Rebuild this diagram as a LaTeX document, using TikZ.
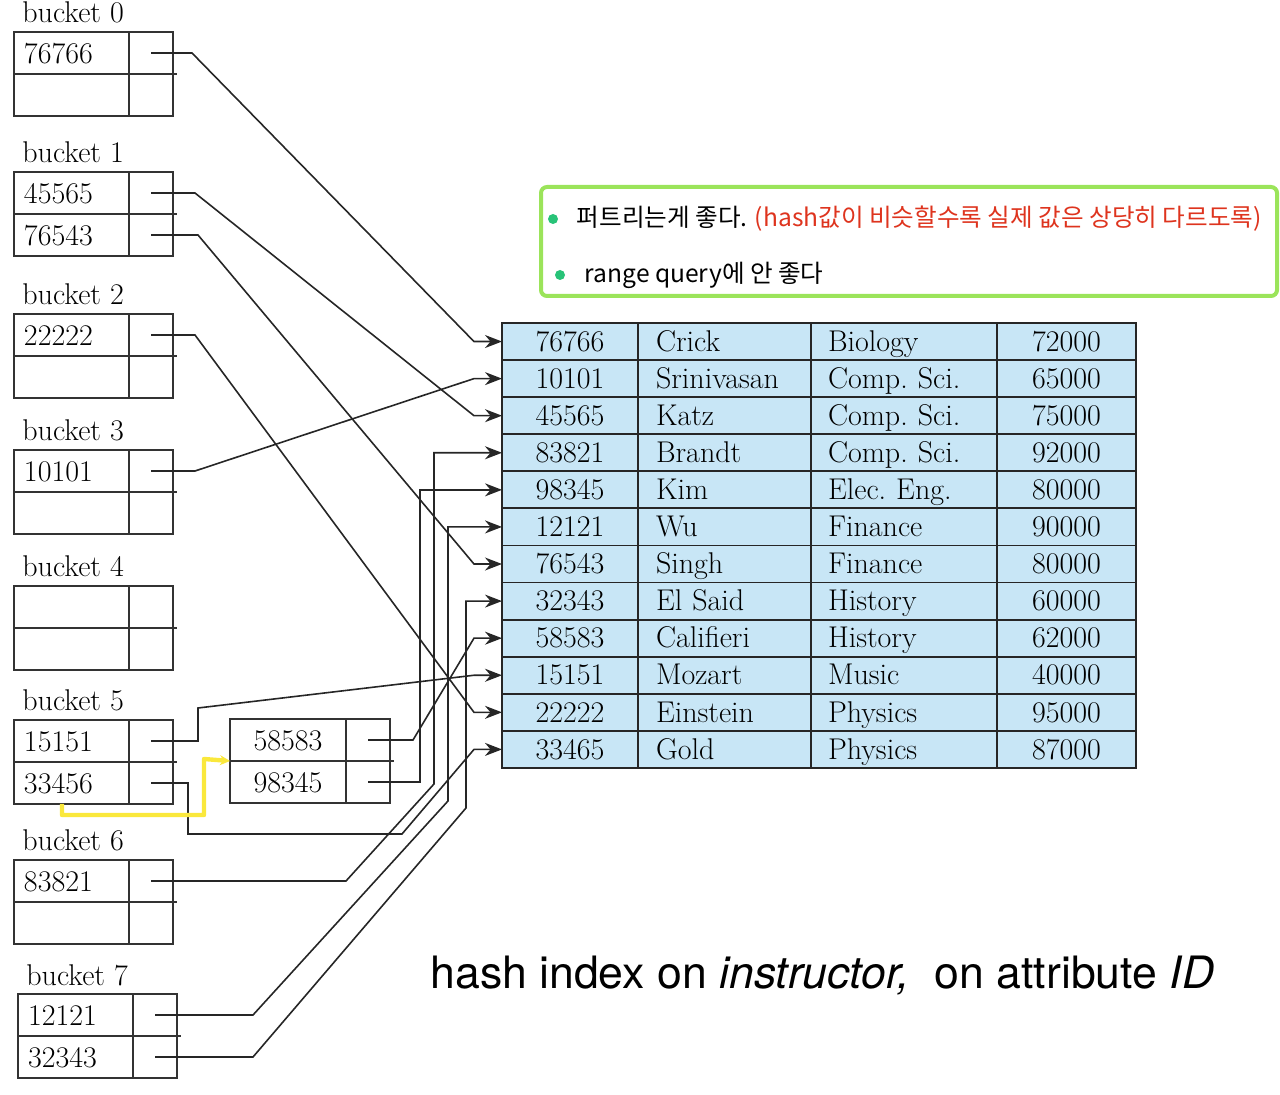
\documentclass[tikz,border=0pt]{standalone}
\usepackage{fontspec}
\usepackage{tikz}
\usetikzlibrary{positioning,arrows.meta,calc}
\newfontfamily\capfont{TeX Gyre Heros}
\newfontfamily\kofont{Noto Sans CJK KR}
\definecolor{tblblue}{RGB}{200,230,246}
\definecolor{notegreen}{RGB}{155,228,90}
\definecolor{notered}{RGB}{222,52,30}
\definecolor{dotgreen}{RGB}{40,195,120}
\definecolor{hiyellow}{RGB}{250,232,60}

\begin{document}
\begin{tikzpicture}[
  x=0.5pt,y=-0.5pt,
  font=\fontsize{15}{18}\selectfont\frenchspacing,
  >={Stealth[length=8.5pt,width=6.5pt]},
  % --- bucket cells ---
  cell/.style   ={draw=black!80,line width=0.9pt,outer sep=0pt,inner ysep=0pt,
                  minimum height=21pt,text height=10.5pt,text depth=0pt},
  valcell/.style={cell,text width=47.5pt,inner xsep=5pt,align=left},
  ptrcell/.style={cell,minimum width=22pt,inner xsep=0pt},
  ovfcell/.style={cell,minimum width=58pt,inner xsep=0pt},
  blabel/.style ={anchor=base west,inner sep=0pt},
  % --- instructor file ---
  tcell/.style  ={draw=black!85,fill=tblblue,line width=0.9pt,outer sep=0pt,
                  inner ysep=0pt,minimum height=18.54pt,text height=9.7pt,text depth=0pt},
  idcell/.style ={tcell,minimum width=68pt,inner xsep=0pt},
  nmcell/.style ={tcell,text width=68.5pt,inner xsep=9pt,align=left},
  dpcell/.style ={tcell,text width=76pt,inner xsep=8.5pt,align=left},
  slcell/.style ={tcell,minimum width=69.5pt,inner xsep=0pt},
  % --- connectors and notes ---
  ptr/.style    ={->,line width=0.8pt,draw=black!85},
  hilite/.style ={-{Stealth[length=5pt,width=5pt]},line width=2.2pt,draw=hiyellow,
                  line join=round},
  notebox/.style={draw=notegreen,line width=2pt,rounded corners=3pt,
                  minimum width=368pt,minimum height=54.5pt},
  notetxt/.style={font=\kofont\fontsize{12.3}{15}\selectfont,inner sep=0pt},
  dot/.style    ={circle,fill=dotgreen,minimum size=5pt,inner sep=0pt},
]
\useasboundingbox (0,0) rectangle (1280,1095);

% ============================== hash buckets ===============================
\foreach \bk/\x/\y/\vone/\vtwo in {0/14/32/76766/{},1/14/172/45565/76543,
    2/14/314/22222/{},3/14/450/10101/{},4/14/586/{}/{},5/14/720/15151/33456,
    6/14/860/83821/{},7/18/994/12121/32343}{
  \node[valcell,anchor=north west] (b\bk v1) at (\x,\y) {\vone};
  \node[valcell,below=0pt of b\bk v1] (b\bk v2) {\vtwo};
  \node[ptrcell,right=0pt of b\bk v1] (b\bk p1) {};
  \node[ptrcell,right=0pt of b\bk v2] (b\bk p2) {};
  \draw[line width=0.9pt,black!80] (b\bk p1.south east) -- ++(4,0);
  \node[blabel] (lab\bk) at ([xshift=4pt,yshift=4.5pt]b\bk v1.north west) {bucket \bk};
}

% overflow bucket of bucket 5
\node[ovfcell,anchor=north west] (o1v) at (230,719) {58583};
\node[ovfcell,below=0pt of o1v] (o2v) {98345};
\node[ptrcell,right=0pt of o1v] (o1p) {};
\node[ptrcell,right=0pt of o2v] (o2p) {};
\draw[line width=0.9pt,black!80] (o1p.south east) -- ++(4,0);

% ============================ instructor file ==============================
\foreach \i/\id/\nm/\dept/\sal in {1/76766/Crick/Biology/72000,
    2/10101/Srinivasan/Comp. Sci./65000,3/45565/Katz/Comp. Sci./75000,
    4/83821/Brandt/Comp. Sci./92000,5/98345/Kim/Elec. Eng./80000,
    6/12121/Wu/Finance/90000,7/76543/Singh/Finance/80000,
    8/32343/El Said/History/60000,9/58583/Califieri/History/62000,
    10/15151/Mozart/Music/40000,11/22222/Einstein/Physics/95000,
    12/33465/Gold/Physics/87000}{
  \node[idcell,anchor=north west] (r\i) at (502,{323+37.08*(\i-1)}) {\id};
  \node[nmcell,right=0pt of r\i] (n\i) {\nm};
  \node[dpcell,right=0pt of n\i] (d\i) {\dept};
  \node[slcell,right=0pt of d\i] (s\i) {\sal};
}

% ============================ bucket pointers ==============================
\draw[ptr] (b0p1.center) -- ++(41,0) -- ($(r1.west)+(-28,0)$) -- (r1.west);
\draw[ptr] (b1p1.center) -- ++(44,0) -- ($(r3.west)+(-28,0)$) -- (r3.west);
\draw[ptr] (b1p2.center) -- ++(47,0) -- ($(r7.west)+(-28,0)$) -- (r7.west);
\draw[ptr] (b2p1.center) -- ++(44,0) -- ($(r11.west)+(-28,0)$) -- (r11.west);
\draw[ptr] (b3p1.center) -- ++(44,0) -- ($(r2.west)+(-28,0)$) -- (r2.west);
\draw[ptr] (b5p1.center) -- ++(47,0) -- ++(0,-33) -- ($(r10.west)+(-28,0)$) -- (r10.west);
\draw[ptr] (b5p2.center) -- ++(37,0) -- ++(0,51) -- ++(214,0)
           -- ($(r12.west)+(-28,0)$) -- (r12.west);
\draw[ptr] (o1p.center) -- ++(45,0) -- ($(r9.west)+(-28,0)$) -- (r9.west);
\draw[ptr] (o2p.center) -- ++(52,0) |- (r5.west);
\draw[ptr] (b6p1.center) -- ++(195,0) -- ++(88,-97) |- (r4.west);
\draw[ptr] (b7p1.center) -- ++(98,0) -- ++(195,-214) |- (r6.west);
\draw[ptr] (b7p2.center) -- ++(98,0) -- ++(213,-249) |- (r8.west);

% yellow mark: 33456 goes on to the overflow bucket
\draw[hilite] ($(b5v2.south west)+(48,0)$) -- ++(0,11)
              -| ($(o1v.south west)+(-26,-2)$) -- (o1v.south west);

% ================================= notes ===================================
\node[notebox] (note) at (909,241.5) {};
\node[dot] (d1) at (553,219) {};
\node[notetxt,right=9pt of d1] (t1)
  {퍼트리는게 좋다. \textcolor{notered}{(hash값이 비슷할수록 실제 값은 상당히 다르도록)}};
\node[dot] (d2) at (560,275) {};
\node[notetxt,right=9.5pt of d2] (t2) {range query에 안 좋다};

\node[anchor=base west,inner sep=0pt,font=\capfont\fontsize{22.3}{26}\selectfont] (cap)
  at (430,988) {hash index on \textit{instructor,}\ \ on attribute \textit{ID}};

\end{tikzpicture}
\end{document}
